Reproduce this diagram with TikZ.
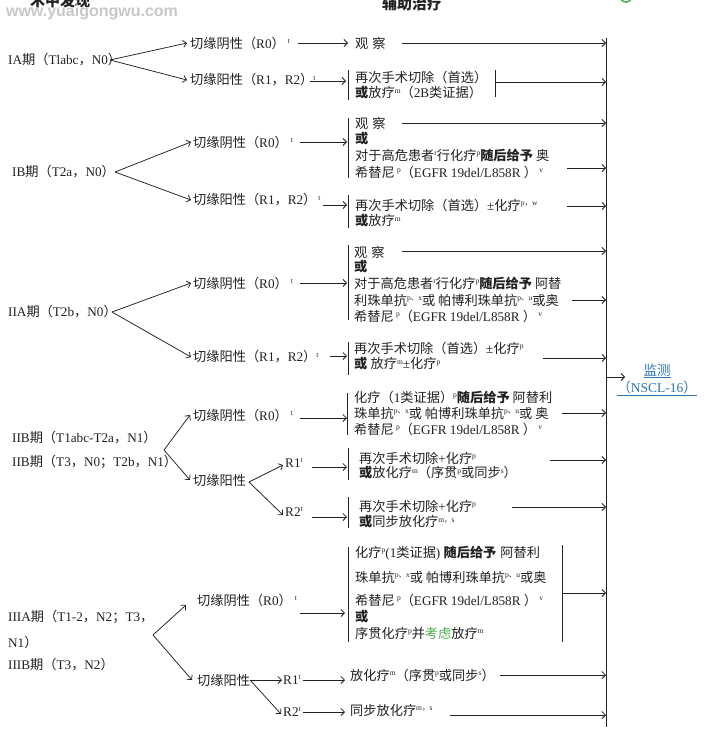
\documentclass[tikz,border=0pt]{standalone}
\usepackage{fontspec}
\usetikzlibrary{arrows.meta}
\setmainfont{Liberation Serif}
\newfontfamily\cjk{Noto Sans CJK SC}
\newfontfamily\wmfont{Liberation Sans}
\definecolor{ink}{HTML}{222222}
\definecolor{linkblue}{HTML}{2E75B6}
\definecolor{kgreen}{HTML}{4CAF50}
\definecolor{wmgray}{HTML}{C8C8C8}
% automatic switch to the CJK font for Chinese characters
\newXeTeXintercharclass\CJKcls
\newcount\cjkcnt
\newcommand\setcjkrange[2]{\cjkcnt=#1\relax\loop\XeTeXcharclass\cjkcnt=\CJKcls\relax\ifnum\cjkcnt<#2\relax\advance\cjkcnt by 1\relax\repeat}
\setcjkrange{"3000}{"303F}
\setcjkrange{"4E00}{"9FFF}
\setcjkrange{"FF00}{"FFEF}
\XeTeXinterchartoks 0 \CJKcls = {\cjk}
\XeTeXinterchartoks 4095 \CJKcls = {\cjk}
\XeTeXinterchartoks \CJKcls 0 = {\rmfamily}
\XeTeXinterchartoks 4095 0 = {\rmfamily}
\XeTeXinterchartokenstate=1
\newcommand{\mysup}[1]{\raisebox{4.5pt}{\fontsize{7.5}{7.5}\selectfont #1}}
\newcommand{\bor}{{\bfseries 或}}
\tikzset{
  txt/.style={inner sep=0pt, anchor=west, text=ink, font=\fontsize{13.2}{16}\selectfont},
  arr/.style={draw=ink, line width=0.75pt, -{Straight Barb[length=3.5pt,width=7pt]}},
  bar/.style={draw=ink, line width=0.8pt},
  mon/.style={inner sep=0pt, anchor=center, text=linkblue, font=\fontsize{13.5}{16}\selectfont},
}
\begin{document}
\begin{tikzpicture}[x=1pt,y=-1pt]
\useasboundingbox[fill=white] (0,0) rectangle (725,736);
\begin{scope}
\clip (0,0) rectangle (725,736);
% headers and marks
\node[inner sep=0pt, text=ink, font=\bfseries\fontsize{15}{15}\selectfont] (hdA) at (60,1) {术中发现};
\node[inner sep=0pt, text=ink, font=\bfseries\fontsize{15}{15}\selectfont] (hdB) at (412,4) {辅助治疗};
\node[inner sep=0pt, text=wmgray] (wm) at (92,12) {\XeTeXinterchartokenstate=0 \wmfont\bfseries\fontsize{16}{16}\selectfont www.yuaigongwu.com};
\draw[kgreen, line width=1.6pt] (626,-4) circle (6);
\end{scope}

% main vertical collector
\coordinate (Vt) at (606,38);
\coordinate (Vb) at (606,727);
\draw[bar] (Vt) -- (Vb);
\coordinate (monS) at (606,377);
\coordinate (monE) at (625,377);
\draw[arr] (monS) -- (monE);
\node[mon] (mon1) at (657,371) {\underline{监测}};
\node[mon] (mon2) at (657,388) {\underline{（NSCL-16）}};

% ---------------- IA ----------------
\node[txt] (s1) at (8,60) {IA期（Tlabc，N0）};
\node[txt] (n1) at (190,43) {切缘阴性（R0）\hspace{3pt}\mysup{t}};
\node[txt] (p1) at (190,80) {切缘阳性（R1，R2）\mysup{t}};
\coordinate (o1) at (110,60);
\draw[arr] (o1) -- ([xshift=-3pt]n1.west);
\draw[arr] (o1) -- ([xshift=-3pt]p1.west);
\node[txt] (n1r) at (355,43) {观\hspace{4pt}察};
\draw[arr] (298,43) coordinate (a1s) -- ([xshift=-7pt]n1r.west);
\draw[arr] (402,43) coordinate (a2s) -- (402,43 -| Vt);
\node[txt] (p1r1) at (355,77) {再次手术切除（首选）};
\node[txt] (p1r2) at (355,93) {\bor 放疗\mysup{m}（2B类证据）};
\coordinate (b1t) at (348,70); \coordinate (b1b) at (348,100);
\draw[bar] (b1t) -- (b1b);
\coordinate (b1rt) at (495,70); \coordinate (b1rb) at (495,97);
\draw[bar] (b1rt) -- (b1rb);
\draw[arr] (310,81) coordinate (a3s) -- (346,81);
\draw[arr] (495,82) coordinate (a4s) -- (495,82 -| Vt);

% ---------------- IB ----------------
\node[txt] (s2) at (12,172) {IB期（T2a，N0）};
\node[txt] (n2) at (193,142) {切缘阴性（R0）\hspace{3pt}\mysup{t}};
\node[txt] (p2) at (193,200) {切缘阳性（R1，R2）\hspace{2pt}\mysup{t}};
\coordinate (o2) at (115,172);
\draw[arr] (o2) -- ([xshift=-2pt]n2.west);
\draw[arr] (o2) -- ([xshift=-2pt]p2.west);
\draw[arr] (300,142) coordinate (a5s) -- (347,142);
\draw[arr] (323,205) coordinate (a6s) -- (347,205);
\coordinate (b2t) at (348,118); \coordinate (b2b) at (348,178);
\draw[bar] (b2t) -- (b2b);
\node[txt] (n2r1) at (355,123) {观\hspace{4pt}察};
\node[txt] (n2r2) at (355,139) {\bor};
\node[txt] (n2r3) at (355,155) {对于高危患者\mysup{r}行化疗\mysup{p}{\bfseries 随后给予} 奥};
\node[txt] (n2r4) at (355,172) {希替尼\,\mysup{p}（EGFR 19del/L858R ）\,\mysup{v}};
\draw[arr] (402,123) coordinate (a7s) -- (402,123 -| Vt);
\draw[arr] (567,168) coordinate (a8s) -- (567,168 -| Vt);
\coordinate (b3t) at (348,195); \coordinate (b3b) at (348,228);
\draw[bar] (b3t) -- (b3b);
\node[txt] (p2r1) at (355,205) {再次手术切除（首选）±化疗\mysup{p，w}};
\node[txt] (p2r2) at (355,221) {\bor 放疗\mysup{m}};
\draw[arr] (567,206) coordinate (a9s) -- (567,206 -| Vt);

% ---------------- IIA ----------------
\node[txt] (s3) at (8,312) {IIA期（T2b，N0）};
\node[txt] (n3) at (193,283) {切缘阴性（R0）\hspace{3pt}\mysup{t}};
\node[txt] (p3) at (193,357) {切缘阳性（R1，R2）\mysup{t}};
\coordinate (o3) at (112,312);
\draw[arr] (o3) -- ([xshift=-2pt]n3.west);
\draw[arr] (o3) -- ([xshift=-2pt]p3.west);
\draw[arr] (300,283) coordinate (a10s) -- (347,283);
\draw[arr] (330,356) coordinate (a11s) -- (347,356);
\coordinate (b4t) at (348,245); \coordinate (b4b) at (348,320);
\draw[bar] (b4t) -- (b4b);
\node[txt] (n3r1) at (354,252) {观\hspace{4pt}察};
\node[txt] (n3r2) at (354,267) {\bor};
\node[txt] (n3r3) at (354,283) {对于高危患者\mysup{r}行化疗\mysup{p}{\bfseries 随后给予} 阿替};
\node[txt] (n3r4) at (354,300) {利珠单抗\mysup{p、x}或 帕博利珠单抗\mysup{p、u}或奥};
\node[txt] (n3r5) at (354,316) {希替尼\,\mysup{p}（EGFR 19del/L858R ）\,\mysup{v}};
\draw[arr] (402,251) coordinate (a12s) -- (402,251 -| Vt);
\draw[arr] (572,300) coordinate (a13s) -- (572,300 -| Vt);
\coordinate (b5t) at (348,342); \coordinate (b5b) at (348,375);
\draw[bar] (b5t) -- (b5b);
\node[txt] (p3r1) at (354,348) {再次手术切除（首选）±化疗\mysup{p}};
\node[txt] (p3r2) at (354,364) {\bor\ 放疗\mysup{m}±化疗\mysup{p}};
\draw[arr] (543,358) coordinate (a14s) -- (543,358 -| Vt);

% ---------------- IIB ----------------
\node[txt] (s4a) at (12,438) {IIB期（T1abc-T2a，N1）};
\node[txt] (s4b) at (12,462) {IIB期（T3，N0；T2b，N1）};
\coordinate (o4) at (164,450);
\node[txt] (n4) at (193,415) {切缘阴性（R0）\hspace{3pt}\mysup{t}};
\node[txt] (p4) at (193,480) {切缘阳性};
\draw[arr] (o4) -- ([xshift=-3pt]n4.west);
\draw[arr] (o4) -- ([xshift=-3pt]p4.west);
\draw[arr] (300,418) coordinate (a15s) -- (347,418);
\coordinate (b6t) at (347,393); \coordinate (b6b) at (347,435);
\draw[bar] (b6t) -- (b6b);
\node[txt] (n4r1) at (354,397) {化疗（1类证据）\mysup{p}{\bfseries 随后给予} 阿替利};
\node[txt] (n4r2) at (354,413) {珠单抗\mysup{p、x}或 帕博利珠单抗\mysup{p、u}或 奥};
\node[txt] (n4r3) at (354,429) {希替尼\,\mysup{p}（EGFR 19del/L858R ）\,\mysup{v}};
\draw[arr] (562,413) coordinate (a16s) -- (562,413 -| Vt);
\coordinate (o4b) at (249,482);
\node[txt] (r41) at (285,463) {R1\mysup{t}};
\node[txt] (r42) at (285,512) {R2\mysup{t}};
\draw[arr] (o4b) -- ([xshift=-2pt,yshift=-2pt]r41.west);
\draw[arr] (o4b) -- ([xshift=-2pt,yshift=-3pt]r42.west);
\draw[arr] (312,467) coordinate (a17s) -- (347,467);
\draw[arr] (312,517) coordinate (a18s) -- (347,517);
\coordinate (b7t) at (348,448); \coordinate (b7b) at (348,480);
\draw[bar] (b7t) -- (b7b);
\node[txt] (r41a) at (359,458) {再次手术切除+化疗\mysup{p}};
\node[txt] (r41b) at (359,473) {\bor 放化疗\mysup{m}（序贯\mysup{p}或同步\mysup{s}）};
\draw[arr] (550,460) coordinate (a19s) -- (550,460 -| Vt);
\coordinate (b8t) at (348,497); \coordinate (b8b) at (348,528);
\draw[bar] (b8t) -- (b8b);
\node[txt] (r42a) at (359,506) {再次手术切除+化疗\mysup{p}};
\node[txt] (r42b) at (359,522) {\bor 同步放化疗\mysup{m，s}};
\draw[arr] (512,507) coordinate (a20s) -- (512,507 -| Vt);

% ---------------- IIIA / IIIB ----------------
\node[txt] (s5a) at (8,617) {IIIA期（T1-2，N2；T3，};
\node[txt] (s5b) at (8,642) {N1）};
\node[txt] (s5c) at (8,665) {IIIB期（T3，N2）};
\coordinate (o5) at (153,635);
\node[txt] (n5) at (197,600) {切缘阴性（R0）\hspace{3pt}\mysup{t}};
\node[txt] (p5) at (197,680) {切缘阳性};
\draw[arr] (o5) -- (186,605);
\draw[arr] (o5) -- ([xshift=-5pt]p5.west);
\draw[arr] (300,613) coordinate (a21s) -- (345,613);
\coordinate (b9t) at (348,547); \coordinate (b9b) at (348,642);
\draw[bar] (b9t) -- (b9b);
\coordinate (b9rt) at (562,545); \coordinate (b9rb) at (562,642);
\draw[bar] (b9rt) -- (b9rb);
\node[txt] (n5r1) at (355,553) {化疗\mysup{p}(1类证据) {\bfseries 随后给予}\hspace{4pt}阿替利};
\node[txt] (n5r2) at (355,577) {珠单抗\mysup{p、x}或 帕博利珠单抗\mysup{p、u}或奥};
\node[txt] (n5r3) at (355,600) {希替尼\,\mysup{p}（EGFR 19del/L858R ）\,\mysup{v}};
\node[txt] (n5r4) at (355,617) {\bor};
\node[txt] (n5r5) at (355,633) {序贯化疗\mysup{p}并\textcolor{kgreen}{考虑}放疗\mysup{m}};
\draw[arr] (562,593) coordinate (a22s) -- (562,593 -| Vt);
\coordinate (o5b) at (250,680);
\node[txt] (r51) at (283,680) {R1\mysup{t}};
\node[txt] (r52) at (283,712) {R2\mysup{t}};
\draw[arr] (o5b) -- ([xshift=-1pt]r51.west);
\draw[arr] (o5b) -- ([xshift=-2pt,yshift=-2pt]r52.west);
\draw[arr] (303,680) coordinate (a23s) -- (345,680);
\draw[arr] (303,712) coordinate (a24s) -- (345,712);
\node[txt] (t51) at (350,675) {放化疗\mysup{m}（序贯\mysup{p}或同步\mysup{s}）};
\node[txt] (t52) at (350,710) {同步放化疗\mysup{m，s}};
\draw[arr] (500,675) coordinate (a25s) -- (500,675 -| Vt);
\draw[arr] (450,715) coordinate (a26s) -- (450,715 -| Vt);
\end{tikzpicture}
\end{document}
